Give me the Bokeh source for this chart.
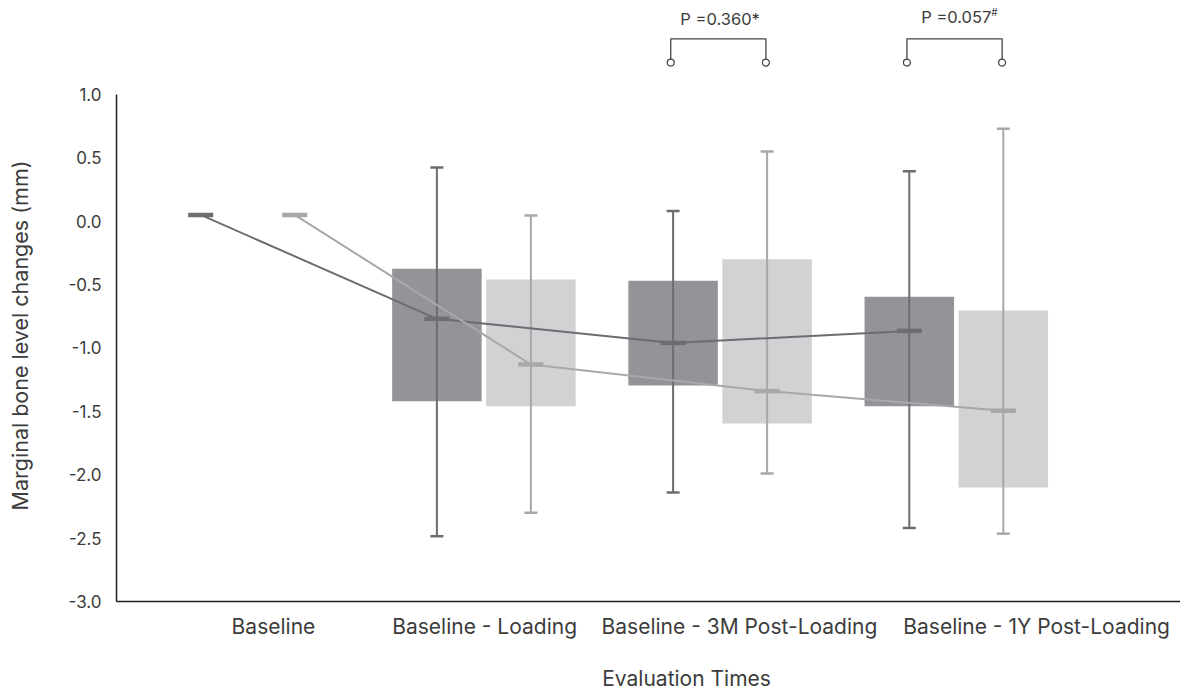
from math import pi
from bokeh.plotting import figure
from bokeh.models import Range1d, FixedTicker, PrintfTickFormatter, ColumnDataSource
from bokeh.core.properties import value
from bokeh.embed import file_html
from bokeh.resources import INLINE

# ---------------- data ----------------
categories = ["Baseline", "Baseline - Loading", "Baseline - 3M Post-Loading", "Baseline - 1Y Post-Loading"]

# dark group
a_median = [0.05, -0.77, -0.96, -0.865]
a_q3 = [None, -0.375, -0.47, -0.595]
a_q1 = [None, -1.42, -1.295, -1.46]
a_max = [None, 0.425, 0.08, 0.395]
a_min = [None, -2.485, -2.14, -2.42]

# light group
b_median = [0.05, -1.13, -1.34, -1.495]
b_q3 = [None, -0.46, -0.30, -0.705]
b_q1 = [None, -1.46, -1.595, -2.10]
b_max = [None, 0.045, 0.55, 0.73]
b_min = [None, -2.30, -1.99, -2.465]

y_ticks = [-3.0, -2.5, -2.0, -1.5, -1.0, -0.5, 0.0, 0.5, 1.0]

comp_index = [2, 3]
comp_text = ["P =0.360*", "P =0.057"]
comp_mark = ["", "#"]

x_title = "Evaluation Times"
y_title = "Marginal bone level changes (mm)"

# ---------------- layout / style ----------------
FONT = "Inter"
TXT = "#3c3c3c"
DARK_BOX, DARK_LINE = "#939498", "#6c6c71"
LIGHT_BOX, LIGHT_LINE = "#d1d2d4", "#a8a8ab"
SHIFT = 0.199
BOX_W = 0.379
MED_W = 0.106
CAP_W = 0.055
label_shift = [0.109, 0.003, 0.082, 0.340]

X0, X1 = -1.0466, 3.9492      # full canvas width
Y0, Y1 = -3.7022, 1.7416      # full canvas height
AX_X = -0.5555                # where the value axis sits
AX_Y = -3.0                   # where the category axis sits

p = figure(width=1180, height=690, output_backend="svg", toolbar_location=None,
           x_range=Range1d(X0, X1), y_range=Range1d(Y0, Y1),
           min_border_left=0, min_border_right=0, min_border_top=0, min_border_bottom=0)
p.outline_line_color = None
p.xgrid.visible = False
p.ygrid.visible = False


def series_sources(med, q1, q3, lo, hi, shift):
    xs = [i + shift for i in range(len(med))]
    box_idx = [i for i in range(len(med)) if q1[i] is not None]
    box = ColumnDataSource(dict(
        x=[xs[i] for i in box_idx],
        q1=[q1[i] for i in box_idx], q3=[q3[i] for i in box_idx],
        lo=[lo[i] for i in box_idx], hi=[hi[i] for i in box_idx],
        cl=[xs[i] - CAP_W / 2 for i in box_idx], cr=[xs[i] + CAP_W / 2 for i in box_idx],
    ))
    med_src = ColumnDataSource(dict(
        x=xs, y=med,
        ml=[x - MED_W / 2 for x in xs], mr=[x + MED_W / 2 for x in xs],
    ))
    return box, med_src


a_box, a_med = series_sources(a_median, a_q1, a_q3, a_min, a_max, -SHIFT)
b_box, b_med = series_sources(b_median, b_q1, b_q3, b_min, b_max, SHIFT)

# boxes
for src, col in ((a_box, DARK_BOX), (b_box, LIGHT_BOX)):
    p.vbar(x="x", bottom="q1", top="q3", width=BOX_W, source=src,
           fill_color=col, line_color=None)

# whiskers + caps
for src, col in ((a_box, DARK_LINE), (b_box, LIGHT_LINE)):
    p.segment(x0="x", y0="lo", x1="x", y1="hi", source=src, line_color=col, line_width=2)
    p.segment(x0="cl", y0="hi", x1="cr", y1="hi", source=src, line_color=col, line_width=2.5)
    p.segment(x0="cl", y0="lo", x1="cr", y1="lo", source=src, line_color=col, line_width=2.5)

# connecting lines and medians
for src, col in ((a_med, DARK_LINE), (b_med, LIGHT_LINE)):
    p.line(x="x", y="y", source=src, line_color=col, line_width=2)
for src, col in ((a_med, DARK_LINE), (b_med, LIGHT_LINE)):
    p.segment(x0="ml", y0="y", x1="mr", y1="y", source=src, line_color=col, line_width=4.5)

# significance brackets
BR_Y, CIRC_Y = 1.439, 1.252
br_left = [i - SHIFT - 0.01 for i in comp_index]
br_right = [i + SHIFT - 0.005 for i in comp_index]
p.multi_line(xs=[[l, l, r, r] for l, r in zip(br_left, br_right)],
             ys=[[CIRC_Y + 0.025, BR_Y, BR_Y, CIRC_Y + 0.025] for _ in comp_index],
             line_color="#444444", line_width=1.3)
p.scatter(x=br_left + br_right, y=[CIRC_Y] * (2 * len(comp_index)), size=7,
          fill_color="white", line_color="#444444", line_width=1.2)
p.text(x=comp_index, y=[1.598, 1.615], text=comp_text, text_align="center",
       text_baseline="middle", text_font=value(FONT), text_font_size="16.5px", text_color=TXT)
p.text(x=[comp_index[1]], y=[1.615], text=[comp_mark[1]], x_offset=35, y_offset=-5,
       text_align="left", text_baseline="middle", text_font=value(FONT),
       text_font_size="10px", text_color=TXT)

# axes (pinned at their data positions)
label_ticks = [round(i + s, 3) for i, s in zip(range(len(categories)), label_shift)]
xa = p.xaxis[0]
xa.fixed_location = AX_Y
xa.bounds = (AX_X, X1)
xa.ticker = FixedTicker(ticks=label_ticks)
xa.major_label_overrides = {t: c for t, c in zip(label_ticks, categories)}
xa.major_tick_line_color = None
xa.minor_tick_line_color = None
xa.major_tick_out = 0
xa.major_tick_in = 0
xa.minor_tick_out = 0
xa.axis_line_color = "#1e1e1e"
xa.axis_line_width = 1.5
xa.major_label_standoff = 13
xa.major_label_text_font = FONT
xa.major_label_text_font_size = "21px"
xa.major_label_text_color = TXT

ya = p.yaxis[0]
ya.fixed_location = AX_X
ya.bounds = (-3.0, 1.0)
ya.ticker = FixedTicker(ticks=y_ticks)
ya.formatter = PrintfTickFormatter(format="%.1f")
ya.major_tick_line_color = None
ya.minor_tick_line_color = None
ya.major_tick_out = 0
ya.major_tick_in = 0
ya.minor_tick_out = 0
ya.axis_line_color = "#1e1e1e"
ya.axis_line_width = 1.5
ya.major_label_standoff = 15
ya.major_label_text_font = FONT
ya.major_label_text_font_size = "17px"
ya.major_label_text_color = TXT

# axis titles
p.text(x=[1.858], y=[-3.608], text=[x_title], text_align="center", text_baseline="middle",
       text_font=value(FONT), text_font_size="21px", text_color=TXT)
p.text(x=[-0.966], y=[-0.901], text=[y_title], angle=pi / 2, text_align="center",
       text_baseline="middle", text_font=value(FONT), text_font_size="21.5px", text_color=TXT)

open("out.html", "w").write(file_html(p, INLINE))
